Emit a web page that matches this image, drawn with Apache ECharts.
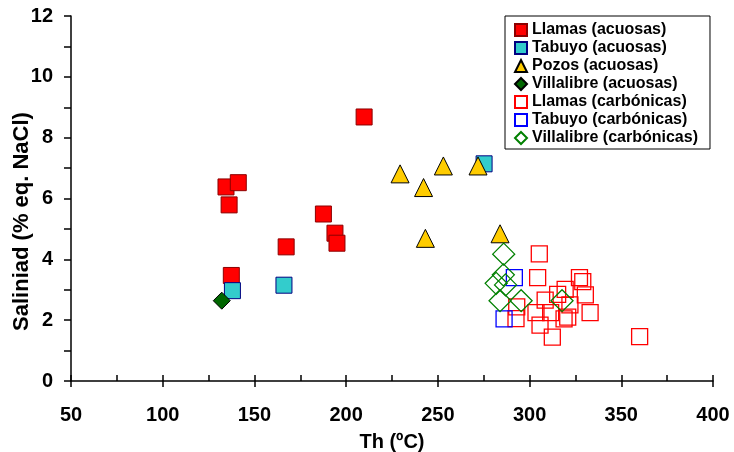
<!DOCTYPE html>
<html>
<head>
<meta charset="utf-8">
<script src="https://cdn.jsdelivr.net/npm/echarts@6/dist/echarts.min.js"></script>
<style>html,body{margin:0;padding:0;background:#fff}#c{width:734px;height:452px}</style>
</head>
<body>
<div id="c"></div>
<script>
// ---- data (Th ºC, salinidad % eq. NaCl) ----
const llamasAcuosas = [[209.8,8.68],[134.5,6.38],[141.2,6.52],[136.2,5.79],[187.6,5.49],[193.9,4.86],[195.0,4.53],[167.3,4.41],[137.4,3.47]];
const tabuyoAcuosas = [[138.0,2.97],[166.1,3.15],[275.2,7.14]];
const pozosAcuosas = [[229.4,6.81],[253.0,7.07],[242.2,6.36],[271.9,7.07],[243.2,4.69],[283.9,4.84]];
const villalibreAcuosas = [[132.2,2.64]];
const llamasCarbonicas = [[305.3,4.18],[304.4,3.40],[327.2,3.40],[329.0,3.27],[319.4,3.01],[330.4,2.83],[308.5,2.66],[315.3,2.85],[303.5,2.25],[311.5,2.25],[318.8,2.04],[320.8,2.10],[333.0,2.25],[305.7,1.84],[312.4,1.44],[360.0,1.46],[293.0,2.44],[292.6,2.05],[322.0,2.50]];
const tabuyoCarbonicas = [[291.7,3.40],[286.1,2.04]];
const villalibreCarbonicas = [[285.9,4.17],[285.7,3.49],[281.8,3.21],[286.9,3.16],[283.9,2.64],[295.4,2.64],[317.7,2.64]];
const seriesNames = ['Llamas (acuosas)','Tabuyo (acuosas)','Pozos (acuosas)','Villalibre (acuosas)','Llamas (carbónicas)','Tabuyo (carbónicas)','Villalibre (carbónicas)'];
const xTitle = 'Th (ºC)';
const yTitle = 'Saliniad (% eq. NaCl)';

const FONT = 'Liberation Sans';
const chart = echarts.init(document.getElementById('c'), null, {renderer:'canvas'});
const xCommon = {type:'value', min:50, max:400, interval:50, position:'bottom', offset:0, splitLine:{show:false}};
chart.setOption({
  animation:false,
  backgroundColor:'#fff',
  grid:{left:71, right:21, top:16, bottom:71, containLabel:false, outerBoundsMode:'none'},
  legend:{
    orient:'vertical', left:505, top:16,
    padding:[6,12,3,9],
    itemWidth:12, itemHeight:12, itemGap:2,
    borderColor:'#000', borderWidth:1,
    textStyle:{fontFamily:FONT, fontWeight:'bold', fontSize:16, color:'#000'},
    data:seriesNames
  },
  xAxis:[
    Object.assign({}, xCommon, {
      name:xTitle, nameLocation:'middle', nameGap:51, nameMoveOverlap:false,
      nameTextStyle:{fontFamily:FONT, fontWeight:'bold', fontSize:20, color:'#000'},
      axisLine:{lineStyle:{color:'#000', width:1.5}},
      axisTick:{inside:false, length:6, lineStyle:{color:'#000', width:1.5}},
      axisLabel:{margin:24, fontFamily:FONT, fontWeight:'bold', fontSize:20, color:'#000'}
    }),
    Object.assign({}, xCommon, {
      axisLine:{show:false},
      axisTick:{inside:true, length:6, lineStyle:{color:'#000', width:1.5}},
      minorTick:{show:true, splitNumber:2, length:6, lineStyle:{color:'#000', width:1.5}},
      axisLabel:{show:false}
    })
  ],
  yAxis:{
    type:'value', min:0, max:12, interval:2,
    name:yTitle, nameLocation:'middle', nameGap:38, nameRotate:90, nameMoveOverlap:false,
    nameTextStyle:{fontFamily:FONT, fontWeight:'bold', fontSize:22, color:'#000', padding:[0,46,0,0]},
    axisLine:{show:true, lineStyle:{color:'#000', width:1.5}},
    axisTick:{show:true, inside:false, length:7, lineStyle:{color:'#000', width:1.5}},
    minorTick:{show:true, splitNumber:2, length:7, lineStyle:{color:'#000', width:1.5}},
    axisLabel:{margin:18, fontFamily:FONT, fontWeight:'bold', fontSize:20, color:'#000'},
    splitLine:{show:false}
  },
  series:[
    {name:seriesNames[0], type:'scatter', data:llamasAcuosas, symbol:'rect', symbolSize:16,
     itemStyle:{color:'#ff0000', borderColor:'#8b0000', borderWidth:1, opacity:1}},
    {name:seriesNames[1], type:'scatter', data:tabuyoAcuosas, symbol:'rect', symbolSize:16,
     itemStyle:{color:'#33cccc', borderColor:'#000080', borderWidth:1, opacity:1}},
    {name:seriesNames[2], type:'scatter', data:pozosAcuosas, symbol:'triangle', symbolSize:18,
     itemStyle:{color:'#ffcc00', borderColor:'#000', borderWidth:1, opacity:1}},
    {name:seriesNames[3], type:'scatter', data:villalibreAcuosas, symbol:'diamond', symbolSize:17,
     itemStyle:{color:'#006600', borderColor:'#000', borderWidth:1, opacity:1}},
    {name:seriesNames[4], type:'scatter', data:llamasCarbonicas, symbol:'rect', symbolSize:16,
     itemStyle:{color:'transparent', borderColor:'#ff0000', borderWidth:1.3, opacity:1}},
    {name:seriesNames[5], type:'scatter', data:tabuyoCarbonicas, symbol:'rect', symbolSize:16,
     itemStyle:{color:'transparent', borderColor:'#0000ff', borderWidth:1.3, opacity:1}},
    {name:seriesNames[6], type:'scatter', data:villalibreCarbonicas, symbol:'diamond', symbolSize:22,
     itemStyle:{color:'transparent', borderColor:'#008000', borderWidth:1.3, opacity:1}}
  ]
});
</script>
</body>
</html>
